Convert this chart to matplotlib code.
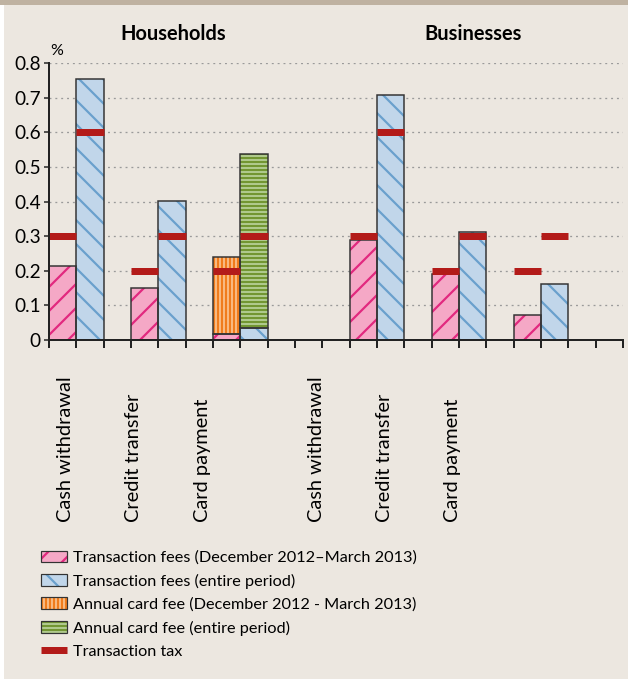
import matplotlib
matplotlib.use("Agg")
from matplotlib import pyplot as plt
from matplotlib.patches import Rectangle, Patch
from matplotlib.lines import Line2D
from matplotlib.ticker import FixedLocator, FuncFormatter
import numpy as np

# data (percent of transaction value)
categories = ["Cash withdrawal", "Credit transfer", "Card payment"]
groups = ["Households", "Businesses"]

hh_fees_short = [0.215, 0.150, 0.016]
hh_fees_full = [0.755, 0.403, 0.034]
hh_card_short = [0.0, 0.0, 0.224]
hh_card_full = [0.0, 0.0, 0.505]
hh_tax_short = [0.3, 0.2, 0.2]
hh_tax_full = [0.6, 0.3, 0.3]

biz_fees_short = [0.290, 0.190, 0.071]
biz_fees_full = [0.707, 0.311, 0.161]
biz_tax_short = [0.3, 0.2, 0.2]
biz_tax_full = [0.6, 0.3, 0.3]

legend_labels = [
    "Transaction fees (December 2012\u2013March 2013)",
    "Transaction fees (entire period)",
    "Annual card fee (December 2012 - March 2013)",
    "Annual card fee (entire period)",
    "Transaction tax",
]

# styles
BG = "#ece7e0"
EDGE = "#333333"
PINK, PINK_H = "#f5a8c6", "#e2287f"
BLUE, BLUE_H = "#c1d6ea", "#6aa0cd"
ORANGE, ORANGE_H = "#f9c08c", "#f07c1c"
GREEN, GREEN_H = "#b6cf97", "#729632"
TAX = "#b31b19"

DPI = 72
plt.rcParams["font.family"] = ["Lato", "DejaVu Sans"]
plt.rcParams["hatch.linewidth"] = 2.2

fig = plt.figure(figsize=(628 / DPI, 679 / DPI), dpi=DPI, facecolor="white")
fig.patches.append(Rectangle((4 / 628, 0), 1, 1, transform=fig.transFigure,
                             facecolor=BG, edgecolor="none", zorder=-10))
fig.patches.append(Rectangle((0, 1 - 5 / 679), 1, 5 / 679, transform=fig.transFigure,
                             facecolor="#bfb2a1", edgecolor="none", zorder=-9))

ax = fig.add_axes([49 / 628, 339 / 679, 574 / 628, 276.7 / 679])
ax.set_facecolor("none")

# slot positions: each bar fills one slot
hh_pos_short = np.array([0, 3, 6])
hh_pos_full = hh_pos_short + 1
biz_pos_short = np.array([11, 14, 17])
biz_pos_full = biz_pos_short + 1


def hbar(x, h, bottom, fill, hcolor, hatch):
    ax.bar(x, h, width=1.0, bottom=bottom, color=fill, edgecolor=hcolor,
           hatch=hatch, linewidth=0, zorder=2)
    ax.bar(x, h, width=1.0, bottom=bottom, facecolor="none", edgecolor=EDGE,
           linewidth=1.5, zorder=3)


zeros = np.zeros(3)
hbar(hh_pos_short, hh_fees_short, zeros, PINK, PINK_H, "/")
hbar(hh_pos_full, hh_fees_full, zeros, BLUE, BLUE_H, "\\")
hbar(hh_pos_short[2:], hh_card_short[2:], hh_fees_short[2:], ORANGE, ORANGE_H, "|||")
hbar(hh_pos_full[2:], hh_card_full[2:], hh_fees_full[2:], GREEN, GREEN_H, "---")
hbar(biz_pos_short, biz_fees_short, zeros, PINK, PINK_H, "/")
hbar(biz_pos_full, biz_fees_full, zeros, BLUE, BLUE_H, "\\")

for pos, vals in [(hh_pos_short, hh_tax_short), (hh_pos_full, hh_tax_full),
                  (biz_pos_short, biz_tax_short), (biz_pos_full, biz_tax_full)]:
    ax.hlines(vals, pos - 0.5, pos + 0.5, color=TAX, linewidth=7,
              zorder=4, capstyle="butt")

ax.set_xlim(-0.5, 20.5)
ax.set_ylim(0, 0.8)
for s in ["top", "right"]:
    ax.spines[s].set_visible(False)
for s in ["left", "bottom"]:
    ax.spines[s].set_linewidth(2)
    ax.spines[s].set_color("#222222")
    ax.spines[s].set_zorder(5)

ax.yaxis.set_major_locator(FixedLocator(np.arange(0, 0.81, 0.1)))
ax.yaxis.set_major_formatter(FuncFormatter(lambda v, p: "0" if v == 0 else f"{v:.1f}"))
ax.tick_params(axis="y", length=5, width=1.5, color="#222222", labelsize=19, pad=3)
ax.xaxis.set_major_locator(FixedLocator(np.arange(-0.5, 20.6, 1)))
ax.tick_params(axis="x", length=8, width=2, color="#222222", labelbottom=False)

for y in np.arange(0.1, 0.81, 0.1):
    ax.axhline(y, color="#9a9a9a", linewidth=1.3, linestyle=(0, (1.5, 3)), zorder=1)

# category labels
label_x = [0.1, 2.6, 5.1, 9.27, 11.77, 14.27]
for x, lab in zip(label_x, categories + categories):
    ax.text(x, -0.658, lab, transform=ax.get_xaxis_transform(), rotation=90,
            ha="center", va="bottom", fontsize=20)

fig.text(173 / 628, 1 - 34 / 679, groups[0], ha="center", va="center",
         fontsize=20, fontweight="bold")
fig.text(473 / 628, 1 - 34 / 679, groups[1], ha="center", va="center",
         fontsize=20, fontweight="bold")
fig.text(57 / 628, 1 - 51 / 679, "%", ha="center", va="center", fontsize=16)

# legend
def lh(fill, hcolor, hatch):
    return (Patch(facecolor=fill, edgecolor=hcolor, hatch=hatch, linewidth=0),
            Patch(facecolor="none", edgecolor=EDGE, linewidth=1.2))

handles = [lh(PINK, PINK_H, "/"), lh(BLUE, BLUE_H, "\\"),
           lh(ORANGE, ORANGE_H, "|||"), lh(GREEN, GREEN_H, "---"),
           Line2D([], [], color=TAX, linewidth=7, solid_capstyle="butt")]
fig.legend(handles, legend_labels, loc="upper left",
           bbox_to_anchor=(41 / 628, 1 - 550.5 / 679), frameon=False,
           fontsize=16.3, borderpad=0, borderaxespad=0, handlelength=1.6,
           handleheight=0.75, handletextpad=0.35, labelspacing=0.53)

fig.savefig("out.png", dpi=DPI, facecolor="white")
